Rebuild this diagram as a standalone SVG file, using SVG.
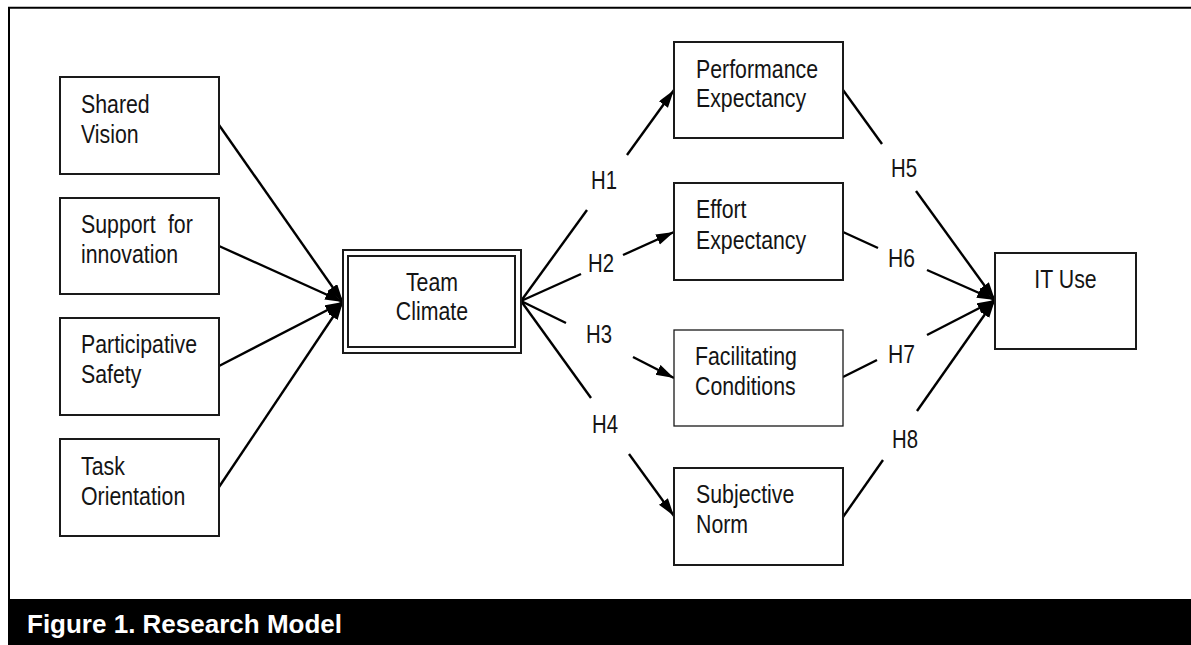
<svg xmlns="http://www.w3.org/2000/svg" width="1191" height="645" viewBox="0 0 1191 645">
<style>
.box{fill:#fff;stroke:#1a1a1a;stroke-width:2}
.thin{stroke-width:1.3}
.t{font-family:"Liberation Sans",Arial,sans-serif;font-size:26px;fill:#141414}
.c{text-anchor:middle}
.lbl{font-family:"Liberation Sans",Arial,sans-serif;font-size:25px;fill:#141414}
.ln{stroke:#000;stroke-width:2.4;fill:none}
.ar{marker-end:url(#ah)}
</style>
<defs>
<marker id="ah" markerUnits="userSpaceOnUse" markerWidth="20" markerHeight="12" refX="18" refY="5.5" orient="auto">
<path d="M0,0 L18,5.5 L0,11 z" fill="#000"/>
</marker>
</defs>
<rect x="0" y="0" width="1191" height="645" fill="#fff"/>
<g id="frame">
<line x1="8" y1="7.7" x2="1191" y2="7.7" stroke="#000" stroke-width="2"/>
<line x1="9" y1="7" x2="9" y2="600" stroke="#000" stroke-width="2"/>
<rect x="8" y="599" width="1183" height="46" fill="#000"/>
<text x="27" y="633" font-family="'Liberation Sans',Arial,sans-serif" font-size="26" font-weight="bold" fill="#fff">Figure 1. Research Model</text>
</g>
<g id="connectors">
<line class="ln ar" x1="219" y1="125" x2="343" y2="302"/>
<line class="ln ar" x1="219" y1="246" x2="343" y2="302"/>
<line class="ln ar" x1="219" y1="366" x2="343" y2="302"/>
<line class="ln ar" x1="219" y1="487" x2="343" y2="302"/>
<line class="ln" x1="521" y1="301" x2="587" y2="210"/>
<line class="ln ar" x1="627" y1="155" x2="674" y2="90"/>
<line class="ln" x1="521" y1="301" x2="581" y2="274"/>
<line class="ln ar" x1="623" y1="255" x2="674" y2="232"/>
<line class="ln" x1="521" y1="301" x2="566" y2="323"/>
<line class="ln ar" x1="633" y1="357" x2="674" y2="378"/>
<line class="ln" x1="521" y1="301" x2="591" y2="398"/>
<line class="ln ar" x1="629" y1="454" x2="674" y2="516"/>
<line class="ln" x1="843" y1="90" x2="882" y2="144"/>
<line class="ln ar" x1="916" y1="191" x2="995" y2="300"/>
<line class="ln" x1="843" y1="232" x2="878" y2="248"/>
<line class="ln ar" x1="927" y1="270" x2="995" y2="300"/>
<line class="ln" x1="843" y1="377" x2="877" y2="360"/>
<line class="ln ar" x1="927" y1="335" x2="995" y2="300"/>
<line class="ln" x1="843" y1="517" x2="883" y2="460"/>
<line class="ln ar" x1="917" y1="411" x2="995" y2="300"/>
<text class="lbl" x="591" y="189" textLength="26" lengthAdjust="spacingAndGlyphs">H1</text>
<text class="lbl" x="588" y="272" textLength="26" lengthAdjust="spacingAndGlyphs">H2</text>
<text class="lbl" x="586" y="343" textLength="26" lengthAdjust="spacingAndGlyphs">H3</text>
<text class="lbl" x="592" y="433" textLength="26" lengthAdjust="spacingAndGlyphs">H4</text>
<text class="lbl" x="891" y="177" textLength="26" lengthAdjust="spacingAndGlyphs">H5</text>
<text class="lbl" x="888" y="267" textLength="27" lengthAdjust="spacingAndGlyphs">H6</text>
<text class="lbl" x="888" y="363" textLength="27" lengthAdjust="spacingAndGlyphs">H7</text>
<text class="lbl" x="892" y="448" textLength="26" lengthAdjust="spacingAndGlyphs">H8</text>
</g>
<g id="shared-vision">
<rect class="box" x="60" y="77" width="159" height="97"/>
<g transform="matrix(0.82 0 0 1 14.58 0)">
<text class="t" x="81" y="113">Shared</text>
<text class="t" x="81" y="143">Vision</text>
</g>
</g>
<g id="support-innovation">
<rect class="box" x="60" y="198" width="159" height="96"/>
<g transform="matrix(0.82 0 0 1 14.58 0)">
<text class="t" x="81" y="233">Support</text>
<text class="t" x="187" y="233">for</text>
<text class="t" x="81" y="263">innovation</text>
</g>
</g>
<g id="participative-safety">
<rect class="box" x="60" y="318" width="159" height="97"/>
<g transform="matrix(0.82 0 0 1 14.58 0)">
<text class="t" x="81" y="353">Participative</text>
<text class="t" x="81" y="383">Safety</text>
</g>
</g>
<g id="task-orientation">
<rect class="box" x="60" y="439" width="159" height="97"/>
<g transform="matrix(0.82 0 0 1 14.58 0)">
<text class="t" x="81" y="475">Task</text>
<text class="t" x="81" y="505">Orientation</text>
</g>
</g>
<g id="team-climate">
<rect class="box" x="343" y="250" width="178" height="103" stroke-width="2.5"/>
<rect class="box" x="348" y="256" width="167" height="91"/>
<g transform="matrix(0.82 0 0 1 77.76 0)">
<text class="t c" x="432" y="291">Team</text>
<text class="t c" x="432" y="320">Climate</text>
</g>
</g>
<g id="performance-expectancy">
<rect class="box" x="674" y="42" width="169" height="96"/>
<g transform="matrix(0.82 0 0 1 125.28 0)">
<text class="t" x="696" y="78">Performance</text>
<text class="t" x="696" y="107">Expectancy</text>
</g>
</g>
<g id="effort-expectancy">
<rect class="box" x="674" y="183" width="169" height="97"/>
<g transform="matrix(0.82 0 0 1 125.28 0)">
<text class="t" x="696" y="218">Effort</text>
<text class="t" x="696" y="249">Expectancy</text>
</g>
</g>
<g id="facilitating-conditions">
<rect class="box thin" x="674" y="330" width="169" height="96"/>
<g transform="matrix(0.82 0 0 1 125.1 0)">
<text class="t" x="695" y="365">Facilitating</text>
<text class="t" x="695" y="395">Conditions</text>
</g>
</g>
<g id="subjective-norm">
<rect class="box" x="674" y="468" width="169" height="97"/>
<g transform="matrix(0.82 0 0 1 125.28 0)">
<text class="t" x="696" y="503">Subjective</text>
<text class="t" x="696" y="533">Norm</text>
</g>
</g>
<g id="it-use">
<rect class="box" x="995" y="253" width="141" height="96"/>
<g transform="matrix(0.82 0 0 1 191.79 0)">
<text class="t c" x="1065.5" y="288">IT Use</text>
</g>
</g>
</svg>
